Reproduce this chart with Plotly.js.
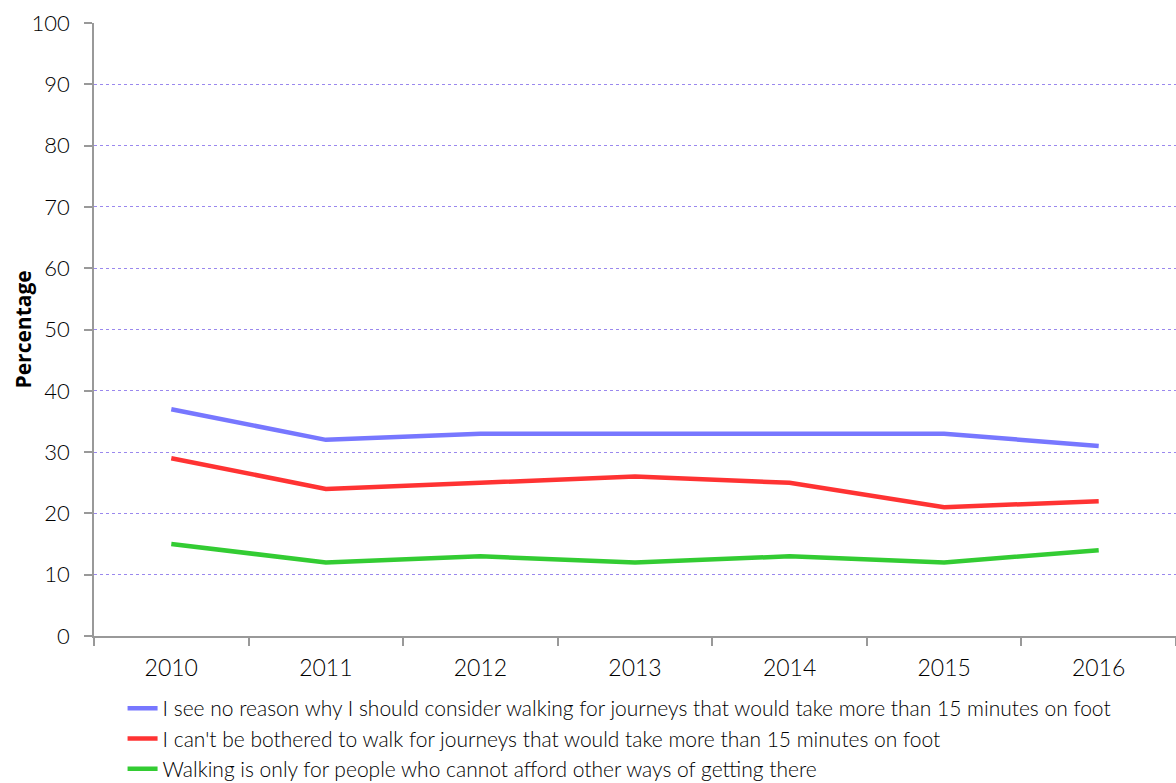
<!DOCTYPE html>
<html>
<head>
<meta charset="utf-8">
<script src="https://cdn.plot.ly/plotly-3.0.1.min.js"></script>
<style>html,body{margin:0;padding:0;background:#fff;}#chart{width:1176px;height:783px;}</style>
</head>
<body>
<div id="chart"></div>
<script>
const years = ["2010","2011","2012","2013","2014","2015","2016"];
const seriesNames = [
  "I see no reason why I should consider walking for journeys that would take more than 15 minutes on foot",
  "I can't be bothered to walk for journeys that would take more than 15 minutes on foot",
  "Walking is only for people who cannot afford other ways of getting there"
];
const noReason = [37, 32, 33, 33, 33, 33, 31];
const notBothered = [29, 24, 25, 26, 25, 21, 22];
const onlyForPoor = [15, 12, 13, 12, 13, 12, 14];
const yTicks = [0,10,20,30,40,50,60,70,80,90,100];
const yTitle = "Percentage";

const colors = ["#7777ff", "#ff3333", "#33cc33"];
const values = [noReason, notBothered, onlyForPoor];
const traces = values.map((v, i) => ({
  type: "scatter", mode: "lines", x: years, y: v, name: seriesNames[i],
  line: {color: colors[i], width: 4.5}
}));

const baseFont = "Lato, 'DejaVu Sans', sans-serif";
const layout = {
  width: 1176, height: 783,
  margin: {l: 94, r: 0, t: 23, b: 147, autoexpand: false},
  paper_bgcolor: "#fff", plot_bgcolor: "#fff",
  font: {family: baseFont, color: "#000", weight: 300},
  showlegend: true,
  legend: {
    x: 0.0264, xanchor: "left", y: -0.085, yanchor: "top",
    font: {size: 21, color: "#000", weight: 300}, tracegroupgap: 0, itemwidth: 30,
    bgcolor: "rgba(0,0,0,0)"
  },
  xaxis: {
    type: "category", range: [-0.5, 6.5], tickson: "boundaries",
    showline: true, linecolor: "#999", linewidth: 1.5,
    ticks: "outside", ticklen: 8, tickcolor: "#999", tickwidth: 1.5,
    showgrid: false, zeroline: false, ticklabelstandoff: 11,
    tickfont: {size: 23, color: "#000", weight: 300}
  },
  yaxis: {
    range: [0, 100], tickvals: yTicks, ticktext: yTicks.map(String),
    showline: true, linecolor: "#999", linewidth: 1.5,
    ticks: "outside", ticklen: 8, tickcolor: "#999", tickwidth: 1.5,
    showgrid: true, gridcolor: "#9a88ee", griddash: "dot", gridwidth: 1,
    zeroline: false, ticklabelstandoff: 10,
    tickfont: {size: 22, color: "#000", weight: 300}
  },
  annotations: [{
    text: "<b>" + yTitle + "</b>", textangle: -90, showarrow: false,
    xref: "paper", yref: "paper", x: 0, y: 0.5, xanchor: "center", yanchor: "middle",
    xshift: -72, font: {family: "'Open Sans', sans-serif", size: 21, color: "#000"}
  }]
};
Plotly.newPlot("chart", traces, layout, {displayModeBar: false});
</script>
</body>
</html>
